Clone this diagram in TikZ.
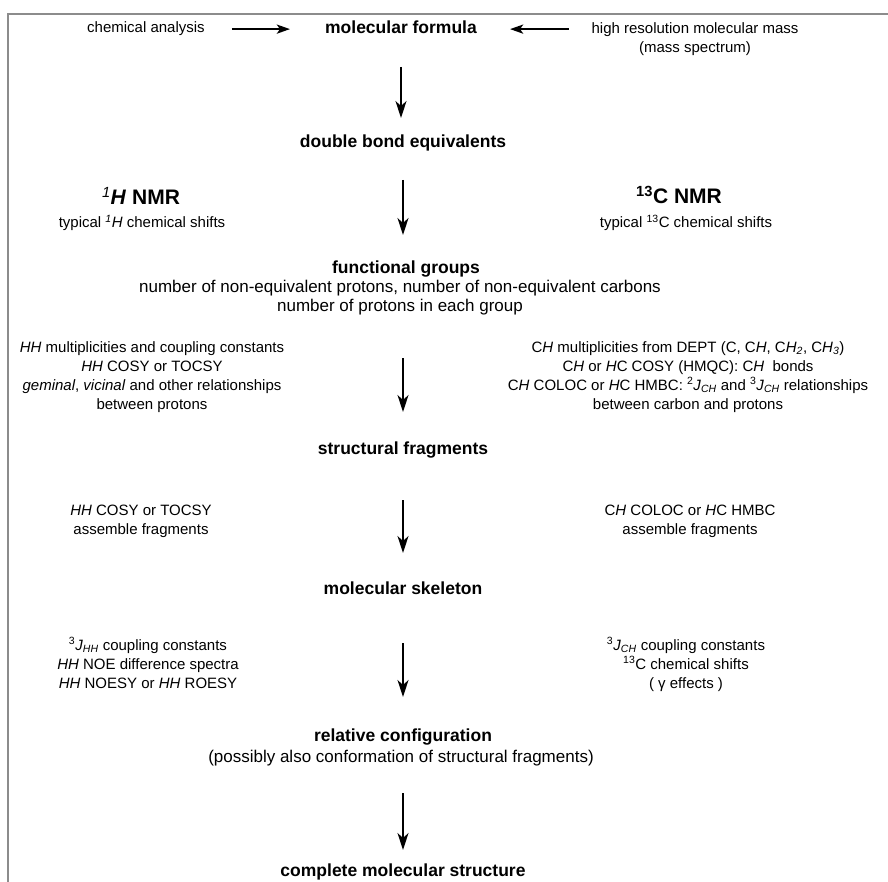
\documentclass[tikz,border=0pt]{standalone}
\usepackage{fontspec}
\setmainfont{Liberation Sans}
\usetikzlibrary{arrows.meta}
\begin{document}
\begin{tikzpicture}[x=1pt,y=-1pt,
  smline/.style={font=\fontsize{15}{19}\selectfont, inner sep=0pt, anchor=base},
  smblock/.style={font=\fontsize{15}{19}\selectfont, inner sep=0pt, align=center, anchor=north},
  mdblock/.style={font=\fontsize{17}{18.5}\selectfont, inner sep=0pt, align=center, anchor=north},
  mdline/.style={font=\fontsize{17}{18.5}\selectfont, inner sep=0pt, anchor=base},
  ttl/.style={font=\fontsize{17.5}{20}\selectfont\bfseries, inner sep=0pt, anchor=base},
  bigttl/.style={font=\fontsize{21}{24}\selectfont\bfseries, inner sep=0pt, anchor=base},
  varr/.style={line width=1.5pt, -{Stealth[length=17pt,width=11pt,inset=5pt]}},
  harr/.style={line width=2.2pt, -{Stealth[length=13pt,width=9pt,inset=3pt]}},
  framel/.style={line width=1.2pt, draw=black!45}]
\useasboundingbox (0,0) rectangle (888,882);
\draw[framel] (8,882) -- (8,14) -- (888,14);

% top row
\node[smline] (ca) at (146,33) {chemical analysis};
\node[ttl] (mf) at (401,34) {molecular formula};
\node[smblock] (hr) at (695,19.7) {\strut high resolution molecular mass\\(mass spectrum)};
\draw[harr, shorten <=27pt, shorten >=35pt] (ca.east) -- (ca.east -| mf.west);
\draw[harr, shorten <=22.5pt, shorten >=33pt] (ca.east -| hr.west) -- (ca.east -| mf.east);

% main column
\node[ttl] (dbe) at (403,148) {double bond equivalents};
\node[ttl] (fg) at (406,274) {functional groups};
\node[mdblock] (fgd) at (400,279.5) {\strut number of non-equivalent protons, number of non-equivalent carbons\\number of protons in each group};
\node[ttl] (sf) at (403,454) {structural fragments};
\node[ttl] (ms) at (403,594) {molecular skeleton};
\node[ttl] (rc) at (403,741) {relative configuration};
\node[mdline] (rcd) at (401,762.5) {(possibly also conformation of structural fragments)};
\node[ttl] (cms) at (403,876) {complete molecular structure};

% NMR headings
\node[bigttl] (h1) at (141,205) {\textit{\textsuperscript{\mdseries 1}H} NMR};
\node[smline] (h1d) at (142,228) {typical \textit{\textsuperscript{1}H} chemical shifts};
\node[bigttl] (c13) at (679,204) {\textsuperscript{13}C NMR};
\node[smline] (c13d) at (686,228) {typical \textsuperscript{13}C chemical shifts};

% side blocks
\node[smblock] (lb1) at (152,338.7) {\strut\textit{HH} multiplicities and coupling constants\\
  \textit{HH} COSY or TOCSY\\
  \textit{geminal}, \textit{vicinal} and other relationships\\
  between protons};
\node[smblock] (rb1) at (688,338.7) {\strut C\textit{H} multiplicities from DEPT (C, C\textit{H}, C\textit{H}\textsubscript{\textit{2}}, C\textit{H}\textsubscript{\textit{3}})\\
  C\textit{H} or \textit{H}C COSY (HMQC): C\textit{H}\ \ bonds\\
  C\textit{H} COLOC or \textit{H}C HMBC: \textsuperscript{2}\textit{J}\textsubscript{\textit{CH}} and \textsuperscript{3}\textit{J}\textsubscript{\textit{CH}} relationships\\
  between carbon and protons};
\node[smblock] (lb2) at (141,501.7) {\strut\textit{HH} COSY or TOCSY\\assemble fragments};
\node[smblock] (rb2) at (690,501.7) {\strut C\textit{H} COLOC or \textit{H}C HMBC\\assemble fragments};
\node[smblock] (lb3) at (148,636.7) {\strut\textsuperscript{3}\textit{J}\textsubscript{\textit{HH}} coupling constants\\
  \textit{HH} NOE difference spectra\\
  \textit{HH} NOESY or \textit{HH} ROESY};
\node[smblock] (rb3) at (686,636.7) {\strut\textsuperscript{3}\textit{J}\textsubscript{\textit{CH}} coupling constants\\
  \textsuperscript{13}C chemical shifts\\
  ( γ effects )};

% vertical arrows
\draw[varr, shorten <=33pt, shorten >=30pt] (mf.base) -- (mf.base |- dbe.base);
\draw[varr, shorten <=32pt, shorten >=39pt] (dbe.base) -- (dbe.base |- fg.base);
\draw[varr, shorten <=78.5pt, shorten >=42pt] (sf.base |- fgd.north) -- (sf.base);
\draw[varr, shorten <=46pt, shorten >=41pt] (sf.base) -- (ms.base);
\draw[varr, shorten <=49pt, shorten >=44pt] (ms.base) -- (rc.base);
\draw[varr, shorten <=30.5pt, shorten >=26pt] (rc.base |- rcd.base) -- (cms.base);
\end{tikzpicture}
\end{document}
